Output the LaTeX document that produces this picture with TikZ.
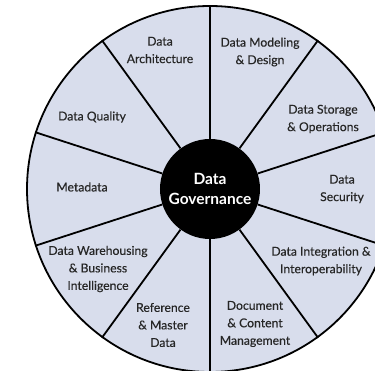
\documentclass[tikz,border=0pt]{standalone}
\usepackage{fontspec}
\setmainfont{Lato}
\newfontfamily\areafont{Lato}[FakeBold=0.35]
\usetikzlibrary{positioning}
\definecolor{wheelblue}{RGB}{216,221,236}
\tikzstyle{rim}=[circle,draw=black,fill=wheelblue,line width=1.8pt,minimum size=366pt,inner sep=0pt]
\tikzstyle{hub}=[circle,fill=black,minimum size=100pt,inner sep=0pt,text=white,align=center,font=\bfseries\fontsize{15.5}{19.5}\selectfont]
\tikzstyle{spoke}=[draw,line width=1.8pt]
\tikzstyle{area}=[align=center,text=black!85,font=\areafont\fontsize{12.2}{17.5}\selectfont]

\begin{document}
\begin{tikzpicture}[x=1pt,y=1pt]
    \useasboundingbox (-210,-182) rectangle (165,189);
    \clip (-210,-182) rectangle (165,189);

    \node[rim] (rim) at (0,0) {};
    \node[hub] (hub) at (0,0) {Data\\Governance};

    \foreach \a in {18,54,...,342}
        \path[spoke] (hub.\a) -- (rim.\a);

    \foreach \pos/\name/\txt in {{(-50,139)/arch/Data\\Architecture}, {(50,137)/model/Data Modeling\\\& Design},
        {(113,70)/storage/Data Storage\\\& Operations}, {(132,0)/security/Data\\Security},
        {(111,-72)/integ/Data Integration \&\\Interoperability}, {(45,-135)/docmgmt/Document\\\& Content\\Management},
        {(-47,-136)/refdata/Reference\\\& Master\\Data}, {(-112,-80)/warehouse/Data Warehousing\\\& Business\\Intelligence},
        {(-128,2)/meta/Metadata}, {(-118,72)/quality/Data Quality}}
        \node[area] (\name) at \pos {\txt};

\end{tikzpicture}
\end{document}
